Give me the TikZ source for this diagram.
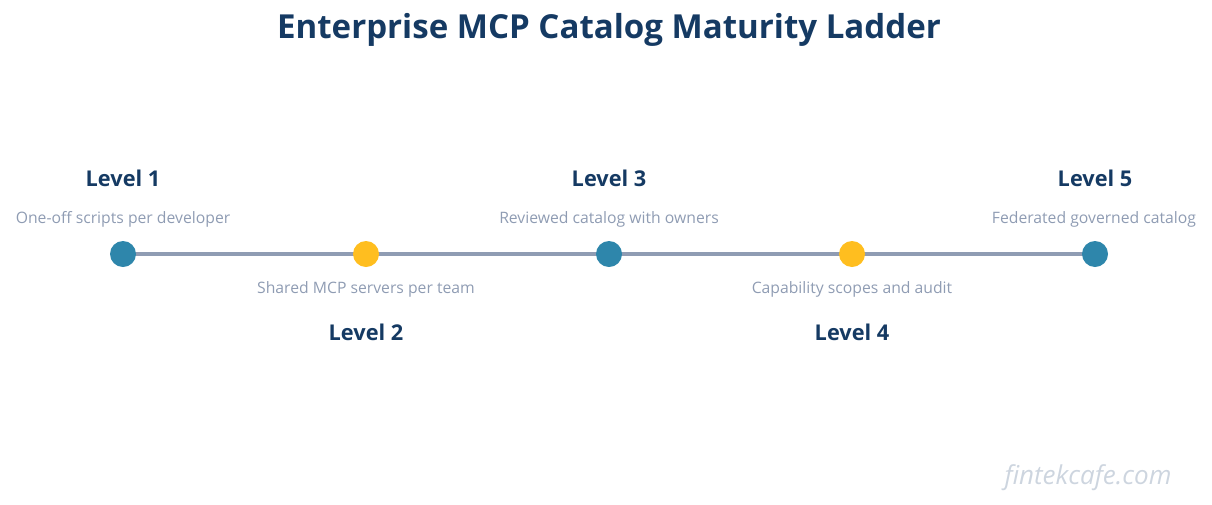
\documentclass[tikz,border=0pt]{standalone}
\usepackage{fontspec}
\setmainfont{Open Sans}
\definecolor{navy}{HTML}{153A63}
\definecolor{teal}{HTML}{2E86AB}
\definecolor{gold}{HTML}{FFBE1F}
\definecolor{lgray}{HTML}{8F9CB3}
\definecolor{wm}{HTML}{CDD5DF}
\begin{document}
\begin{tikzpicture}[x=0.75pt,y=-0.75pt,
 dot/.style={circle,inner sep=0pt,minimum size=19.5pt},
 lvl/.style={font=\bfseries\fontsize{16.3pt}{19pt}\selectfont,text=navy},
 desc/.style={font=\fontsize{11.8pt}{14pt}\selectfont,text=lgray}]
\useasboundingbox (0,0) rectangle (1212,504);
\node[font=\bfseries\fontsize{24.8pt}{29pt}\selectfont,text=navy] (t) at (609,30) {Enterprise MCP Catalog Maturity Ladder};
\foreach \i/\x/\c in {1/123/teal,2/366/gold,3/609/teal,4/852/gold,5/1095/teal}{
  \coordinate (p\i) at (\x,254);
}
\draw[lgray,line width=3pt] (p1) -- (p5);
\foreach \i/\c in {1/teal,2/gold,3/teal,4/gold,5/teal}{
  \node[dot,fill=\c] (d\i) at (p\i) {};
}
\node[lvl] (l1) at (123,178) {Level 1};
\node[desc] (s1) at (123,219) {One-off scripts per developer};
\node[lvl] (l3) at (609,178) {Level 3};
\node[desc] (s3) at (609,219) {Reviewed catalog with owners};
\node[lvl] (l5) at (1095,178) {Level 5};
\node[desc] (s5) at (1094,219) {Federated governed catalog};
\node[desc] (s2) at (366,289) {Shared MCP servers per team};
\node[lvl] (l2) at (366,332) {Level 2};
\node[desc] (s4) at (852,289) {Capability scopes and audit};
\node[lvl] (l4) at (852,332) {Level 4};
\node[font=\itshape\fontsize{19.5pt}{23pt}\selectfont,text=wm] (w) at (1088,478) {fintekcafe.com};
\end{tikzpicture}
\end{document}
